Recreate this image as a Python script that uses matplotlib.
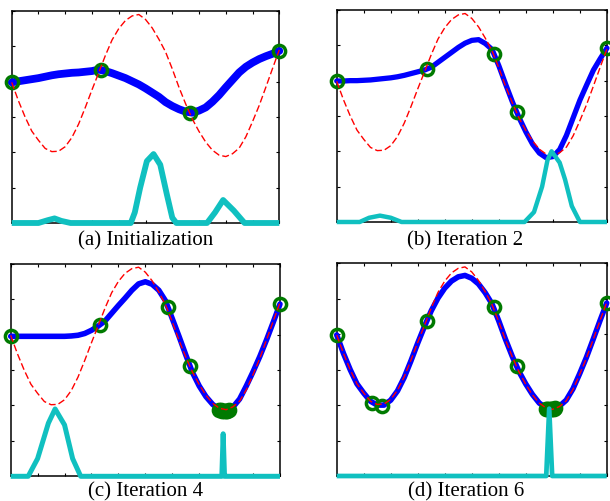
import numpy as np
import matplotlib
matplotlib.use('Agg')
import matplotlib.pyplot as plt

# common grid for the objective and the posterior means
x_grid = np.arange(0, 10.01, 0.25)

# true objective (red dashed)
f_true = [3.98, 3.46, 3.00, 2.60, 2.34, 2.11, 2.02, 2.03, 2.16, 2.42, 2.80,
          3.27, 3.77, 4.25, 4.74, 5.18, 5.50, 5.73, 5.86, 5.90, 5.76, 5.52,
          5.20, 4.84, 4.36, 3.84, 3.37, 2.94, 2.59, 2.29, 2.06, 1.92, 1.88,
          1.96, 2.12, 2.44, 2.87, 3.33, 3.85, 4.38, 4.90]

# posterior means (blue), one per panel
mean_a = [3.98, 4.01, 4.04, 4.07, 4.10, 4.14, 4.18, 4.21, 4.23, 4.25, 4.26,
          4.28, 4.30, 4.34, 4.30, 4.24, 4.17, 4.10, 4.01, 3.92, 3.81, 3.69,
          3.57, 3.42, 3.31, 3.22, 3.15, 3.12, 3.18, 3.27, 3.43, 3.62, 3.84,
          4.05, 4.26, 4.42, 4.54, 4.64, 4.72, 4.79, 4.87]
mean_b = [3.99, 3.99, 4.00, 4.00, 4.01, 4.02, 4.04, 4.06, 4.08, 4.11, 4.15,
          4.20, 4.25, 4.30, 4.38, 4.52, 4.66, 4.80, 4.94, 5.06, 5.14, 5.16,
          5.05, 4.88, 4.42, 3.90, 3.40, 2.95, 2.55, 2.20, 1.95, 1.82, 1.85,
          2.05, 2.45, 2.95, 3.45, 3.88, 4.30, 4.62, 4.92]
mean_c = [3.95, 3.95, 3.95, 3.95, 3.95, 3.95, 3.95, 3.95, 3.95, 3.96, 3.98,
          4.03, 4.12, 4.24, 4.38, 4.60, 4.82, 5.03, 5.25, 5.43, 5.49, 5.42,
          5.25, 4.95, 4.45, 3.95, 3.43, 2.93, 2.55, 2.25, 2.03, 1.88, 1.84,
          1.95, 2.18, 2.55, 2.95, 3.38, 3.85, 4.35, 4.86]
mean_d = [3.98, 3.46, 3.00, 2.60, 2.34, 2.11, 2.00, 2.00, 2.14, 2.40, 2.78,
          3.25, 3.75, 4.22, 4.66, 5.02, 5.30, 5.50, 5.62, 5.66, 5.58, 5.42,
          5.17, 4.86, 4.38, 3.86, 3.38, 2.95, 2.60, 2.30, 2.06, 1.92, 1.88,
          1.97, 2.14, 2.46, 2.89, 3.35, 3.86, 4.38, 4.88]

# observed samples (green circles)
obs_x_a = [0, 3.33, 6.67, 10]
obs_y_a = [3.98, 4.34, 3.12, 4.87]
obs_x_b = [0, 3.33, 5.83, 6.67, 10]
obs_y_b = [3.99, 4.32, 4.76, 3.12, 4.92]
obs_x_c = [0, 3.33, 5.83, 6.67, 7.74, 7.80, 7.86, 7.92, 7.98, 8.04, 8.10, 10]
obs_y_c = [3.95, 4.28, 4.78, 3.10, 1.88, 1.86, 1.85, 1.84, 1.84, 1.85, 1.86,
           4.86]
obs_x_d = [0, 1.30, 1.67, 3.33, 5.83, 6.67, 7.74, 7.80, 7.86, 7.92, 7.98,
           8.04, 8.08, 10]
obs_y_d = [3.98, 2.06, 1.98, 4.36, 4.76, 3.10, 1.90, 1.89, 1.88, 1.88, 1.88,
           1.90, 1.92, 4.88]

# acquisition function (cyan)
acq_x_a = [0, 1.0, 1.35, 1.6, 1.85, 2.2, 4.45, 4.6, 4.8, 5.05, 5.3, 5.55,
           5.8, 6.0, 6.15, 7.3, 7.6, 7.9, 8.3, 8.7, 10]
acq_y_a = [0, 0, 0.08, 0.13, 0.06, 0, 0, 0.3, 1.0, 1.75, 1.95, 1.65, 0.8,
           0.15, 0, 0, 0.3, 0.65, 0.35, 0, 0]
acq_x_b = [0, 0.85, 1.2, 1.6, 2.0, 2.4, 6.95, 7.3, 7.6, 7.8, 7.95, 8.25,
           8.45, 8.7, 9.0, 10]
acq_y_b = [0, 0, 0.12, 0.18, 0.12, 0, 0, 0.28, 1.0, 1.75, 2.0, 1.68, 1.2,
           0.45, 0, 0]
acq_x_c = [0, 0.65, 1.0, 1.4, 1.65, 2.0, 2.3, 2.6, 7.84, 7.89, 7.94, 10]
acq_y_c = [0, 0, 0.5, 1.5, 1.9, 1.45, 0.5, 0, 0, 1.2, 0, 0]
acq_x_d = [0, 7.76, 7.87, 7.98, 10]
acq_y_d = [0, 0, 1.9, 0, 0]

captions = ['(a) Initialization', '(b) Iteration 2',
            '(c) Iteration 4', '(d) Iteration 6']

panels = [
    (mean_a, obs_x_a, obs_y_a, acq_x_a, acq_y_a, 5.6, 4.2),
    (mean_b, obs_x_b, obs_y_b, acq_x_b, acq_y_b, 3.8, 3.2),
    (mean_c, obs_x_c, obs_y_c, acq_x_c, acq_y_c, 4.0, 3.6),
    (mean_d, obs_x_d, obs_y_d, acq_x_d, acq_y_d, 4.0, 3.4),
]
boxes = [
    [0.0192, 0.5549, 0.4387, 0.4232],
    [0.5520, 0.5569, 0.4430, 0.4232],
    [0.0175, 0.0493, 0.4415, 0.4244],
    [0.5520, 0.0499, 0.4426, 0.4244],
]
cap_pos = [(0.238, 0.511), (0.762, 0.511), (0.238, 0.009), (0.764, 0.009)]

fig = plt.figure(figsize=(6.1, 5.01), dpi=100)

for i in range(4):
    mean, ox, oy, ax_x, ax_y, lw_mean, lw_acq = panels[i]
    ax = fig.add_axes(boxes[i])
    ax.plot(x_grid, mean, color='#0000ff', linewidth=lw_mean,
            solid_capstyle='round', clip_on=False, zorder=3)
    ax.plot(ox, oy, 'o', markersize=8.8, markerfacecolor='none',
            markeredgecolor='#007a00', markeredgewidth=2.5,
            clip_on=False, zorder=4)
    ax.plot(x_grid, f_true, color='#ff0000', linewidth=1.0,
            dashes=(5, 2.2), clip_on=False, zorder=5)
    ax.plot(ax_x, ax_y, color='#10c0c0', linewidth=lw_acq,
            solid_joinstyle='round', solid_capstyle='butt',
            clip_on=False, zorder=6)
    ax.set_xlim(0, 10)
    ax.set_ylim(0, 6)
    ax.set_xticks(np.arange(0, 11, 1))
    ax.set_yticks(np.arange(0, 7, 1))
    ax.tick_params(direction='in', length=2.5, width=0.8,
                   top=True, right=True,
                   labelbottom=False, labelleft=False)
    for s in ax.spines.values():
        s.set_linewidth(1.1)
    fig.text(cap_pos[i][0], cap_pos[i][1], captions[i], ha='center',
             va='baseline', fontsize=15, family='Liberation Serif')

fig.savefig('out.png', dpi=100)
